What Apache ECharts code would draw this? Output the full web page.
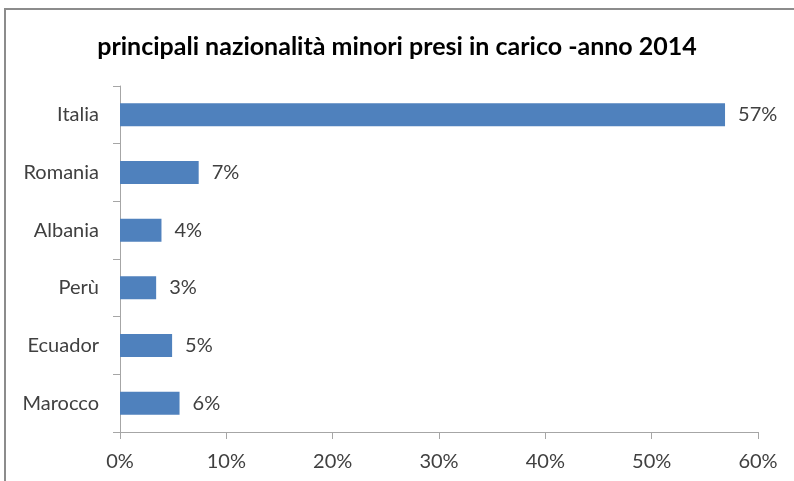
<!DOCTYPE html>
<html>
<head>
<meta charset="utf-8">
<script src="https://cdn.jsdelivr.net/npm/echarts@6/dist/echarts.min.js"></script>
<style>
  html, body { margin: 0; padding: 0; background: #fff; }
  #chart { width: 794px; height: 481px; }
</style>
</head>
<body>
<div id="chart"></div>
<script>
// categories from bottom to top (ECharts category y-axis starts at the bottom)
const countries = ['Marocco', 'Ecuador', 'Perù', 'Albania', 'Romania', 'Italia']
const shares = [5.6, 4.9, 3.4, 3.9, 7.4, 56.9]
const axisMax = 60
const axisStep = 10

const mychart = echarts.init(document.getElementById('chart'))
const font = 'Lato, sans-serif'

mychart.setOption({
  animation: false,
  title: {
    text: 'principali nazionalità minori presi in carico -anno 2014',
    left: 'center',
    top: 29,
    textStyle: {
      fontFamily: font,
      fontSize: 25,
      fontWeight: 'bold',
      color: '#000'
    }
  },
  graphic: [{
    type: 'polyline',
    shape: { points: [[5, 481], [5, 9], [794, 9]] },
    style: { stroke: '#8c8c8c', lineWidth: 2, fill: null }
  }],
  grid: {
    left: 120,
    right: 36,
    top: 86,
    bottom: 49
  },
  xAxis: {
    type: 'value',
    min: 0,
    max: axisMax,
    interval: axisStep,
    axisLine: { show: true, lineStyle: { color: '#a6a6a6', width: 1 } },
    axisTick: { show: true, length: 7, lineStyle: { color: '#a6a6a6' } },
    splitLine: { show: false },
    axisLabel: {
      formatter: v => v + '%',
      fontFamily: font,
      fontSize: 20,
      color: '#404040',
      margin: 20
    }
  },
  yAxis: {
    type: 'category',
    data: countries,
    axisLine: { show: true, lineStyle: { color: '#a6a6a6', width: 1 } },
    axisTick: { show: true, length: 7, lineStyle: { color: '#a6a6a6' } },
    axisLabel: {
      fontFamily: font,
      fontSize: 20,
      color: '#404040',
      margin: 21
    }
  },
  series: [{
    type: 'bar',
    data: shares,
    barWidth: 23,
    itemStyle: { color: '#4F81BD' },
    label: {
      show: true,
      position: 'right',
      distance: 13,
      formatter: p => Math.round(p.value) + '%',
      fontFamily: font,
      fontSize: 20,
      color: '#404040'
    }
  }]
})
</script>
</body>
</html>
